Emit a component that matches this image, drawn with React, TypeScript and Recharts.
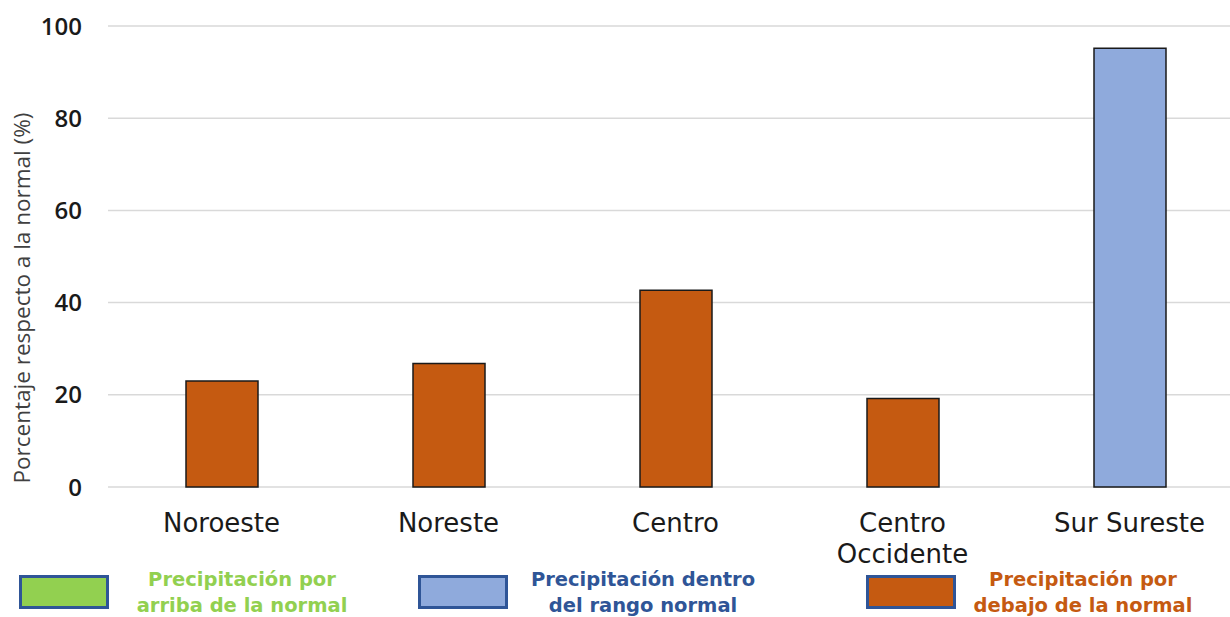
import React from "react";
import { BarChart, Bar, XAxis, YAxis, CartesianGrid, Cell } from "recharts";

// regiones y porcentaje de la precipitación respecto a la normal
const regions = ["Noroeste", "Noreste", "Centro", "Centro Occidente", "Sur Sureste"];
const percents = [23.0, 26.8, 42.7, 19.2, 95.2];
const classes = ["debajo", "debajo", "debajo", "debajo", "dentro"];

const yTicks = [0, 20, 40, 60, 80, 100];

const legendKeys = ["arriba", "dentro", "debajo"];
const legendLines = [
  ["Precipitación por", "arriba de la normal"],
  ["Precipitación dentro", "del rango normal"],
  ["Precipitación por", "debajo de la normal"],
];

const fillFor: Record<string, string> = {
  arriba: "#92D050",
  dentro: "#8FAADC",
  debajo: "#C55A11",
};
const textFor: Record<string, string> = {
  arriba: "#92D050",
  dentro: "#2F5597",
  debajo: "#C55A11",
};

const data = regions.map((region, i) => ({
  region,
  value: percents[i],
  cls: classes[i],
}));

const TICK_FONT = "'DejaVu Sans', Verdana, sans-serif";

// parte la etiqueta en líneas de hasta ~12 caracteres
function wrap(label: string, max = 12): string[] {
  const lines: string[] = [];
  let cur = "";
  for (const w of label.split(" ")) {
    const next = cur ? cur + " " + w : w;
    if (next.length > max && cur) {
      lines.push(cur);
      cur = w;
    } else {
      cur = next;
    }
  }
  if (cur) lines.push(cur);
  return lines;
}

function RegionTick(props: any) {
  const { x, y, payload } = props;
  const lines = wrap(String(payload.value));
  return (
    <text
      x={x}
      y={y}
      textAnchor="middle"
      fill="#1a1a1a"
      style={{ fontSize: 26, fontFamily: TICK_FONT }}
    >
      {lines.map((l, i) => (
        <tspan key={i} x={x} dy={i === 0 ? 19 : 31}>
          {l}
        </tspan>
      ))}
    </text>
  );
}

function YTitle() {
  return (
    <text
      x={21}
      y={298}
      transform="rotate(-90, 21, 298)"
      textAnchor="middle"
      dominantBaseline="central"
      fill="#404040"
      style={{ fontSize: 22.5, fontFamily: "'Open Sans', sans-serif" }}
    >
      Porcentaje respecto a la normal (%)
    </text>
  );
}

// posiciones de los recuadros de la leyenda (x del cuadro, centro del texto)
const legendBoxX = [19, 418, 866];
const legendTextX = [242, 643, 1083];

export default function App() {
  return (
    <div
      style={{
        position: "absolute",
        left: 0,
        top: 0,
        width: 1230,
        height: 617,
        overflow: "hidden",
        background: "#fff",
      }}
    >
      <BarChart
        width={1250}
        height={617}
        data={data}
        margin={{ top: 26, right: 7, left: 0, bottom: 60 }}
      >
        <CartesianGrid vertical={false} stroke="#d9d9d9" strokeWidth={1.5} />
        <XAxis
          dataKey="region"
          axisLine={false}
          tickLine={false}
          tickSize={0}
          tickMargin={26}
          height={70}
          interval={0}
          tick={<RegionTick />}
        />
        <YAxis
          domain={[0, 100]}
          ticks={yTicks}
          width={108}
          axisLine={false}
          tickLine={false}
          tickSize={0}
          tickMargin={26}
          tick={{
            fill: "#1a1a1a",
            fontSize: 24,
            fontWeight: 600,
            fontFamily: "'Open Sans', sans-serif",
          }}
          label={<YTitle />}
        />
        <Bar
          dataKey="value"
          barSize={72}
          stroke="#1a1a1a"
          strokeWidth={1.5}
          isAnimationActive={false}
        >
          {data.map((d) => (
            <Cell key={d.region} fill={fillFor[d.cls]} />
          ))}
        </Bar>
      </BarChart>

      {legendKeys.map((k, i) => (
        <React.Fragment key={k}>
          <div
            style={{
              position: "absolute",
              left: legendBoxX[i],
              top: 575,
              width: 84,
              height: 28,
              background: fillFor[k],
              border: "3px solid #2F5597",
            }}
          />
          <div
            style={{
              position: "absolute",
              left: legendTextX[i] - 150,
              top: 567,
              width: 300,
              textAlign: "center",
              color: textFor[k],
              fontFamily: TICK_FONT,
              fontWeight: 700,
              fontSize: 19.5,
              lineHeight: "26px",
            }}
          >
            {legendLines[i][0]}
            <br />
            {legendLines[i][1]}
          </div>
        </React.Fragment>
      ))}
    </div>
  );
}
